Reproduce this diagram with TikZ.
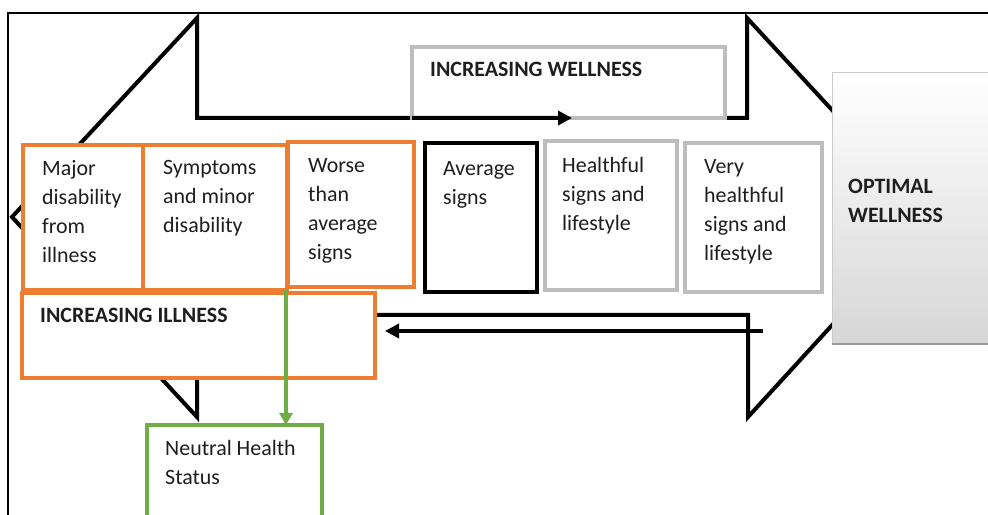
\documentclass[tikz,border=0pt]{standalone}
\usepackage{fontspec}
\setmainfont{Carlito}
\usetikzlibrary{arrows.meta,calc}
\definecolor{orng}{HTML}{ED7D31}
\definecolor{grn}{HTML}{70AD47}
\definecolor{gry}{HTML}{BDBDBD}
\definecolor{txt}{HTML}{1E1E1E}
\definecolor{optbot}{HTML}{D6D6D6}
\begin{document}
\begin{tikzpicture}[x=1bp,y=-1bp,
  boxbase/.style={rectangle,inner sep=0,outer sep=0,anchor=north west,fill=white,line width=4bp},
  orangebox/.style={boxbase,draw=orng},
  graybox/.style={boxbase,draw=gry},
  blackbox/.style={boxbase,draw=black,line width=4.5bp},
  greenbox/.style={boxbase,draw=grn},
  lbl/.style={anchor=base west,inner sep=0,align=left,text=txt,font=\fontsize{21.9bp}{29bp}\selectfont},
  blbl/.style={lbl,font=\fontsize{21.9bp}{29bp}\selectfont\bfseries},
  bigarrow/.style={draw=black,line width=4bp,line join=miter,miter limit=20},
  inarrow/.style={draw=black,line width=4bp,-{Triangle[length=14bp,width=14bp]}},
  greenarrow/.style={draw=grn,line width=3.5bp,-{Triangle[length=12bp,width=13bp]}}
]
\useasboundingbox (0,0) rectangle (988,515);
\clip (0,0) rectangle (988,515);
% frame
\draw[line width=1.5bp] (8,525) -- (8,13) -- (1000,13);
% big double arrow
\draw[bigarrow] (12,217) -- (197,18) -- (197,118) -- (747,118) -- (747,18) -- (931,217)
  -- (748,417) -- (748,315) -- (197,315) -- (197,417) -- cycle;
% optimal wellness box
\node[rectangle,inner sep=0,outer sep=0,anchor=north west,minimum width=170bp,minimum height=271bp,
  top color=white,bottom color=optbot,draw=gry!80,line width=1bp] (opt) at (832,73) {};
\draw[line width=2bp,draw=gray!80] (opt.south west) -- (opt.south east);
% increasing wellness
\node[graybox,minimum width=313bp,minimum height=71bp] (well) at (412,47) {};
% row boxes
\node[orangebox,minimum width=120bp,minimum height=145bp] (b1) at (23,145) {};
\node[orangebox,minimum width=144bp,minimum height=145bp] (b2) at (143,145) {};
\node[orangebox,minimum width=126bp,minimum height=145bp] (b3) at (288,142) {};
\node[blackbox,minimum width=112bp,minimum height=149bp] (b4) at (425,143) {};
\node[graybox,minimum width=132bp,minimum height=149bp] (b5) at (545,141) {};
\node[graybox,minimum width=137bp,minimum height=149bp] (b6) at (685,143) {};
% increasing illness
\node[orangebox,minimum width=353bp,minimum height=85bp] (ill) at (22,293) {};
% neutral
\node[greenbox,minimum width=175bp,minimum height=120bp] (neu) at (147,425) {};
% inner arrows
\coordinate (wtip) at (572,118);
\draw[inarrow] (well.south west) -- (wtip);
\coordinate (istart) at (763,331);
\coordinate (itip) at (385,331);
\draw[inarrow] (istart) -- (itip);
\draw[greenarrow] ($(b2.south east)+(-1,0)$) -- ($(b2.south east |- neu.north)+(-1,0)$);
% labels (anchor = baseline of last line)
\node[lbl] (t1) at (42,263) {Major\\disability\\from\\illness};
\node[lbl] (t2) at (163,233) {Symptoms\\and minor\\disability};
\node[lbl] (t3) at (308,260) {Worse\\than\\average\\signs};
\node[lbl] (t4) at (443,205) {Average\\signs};
\node[lbl] (t5) at (562,231) {Healthful\\signs and\\lifestyle};
\node[lbl] (t6) at (704,261) {Very\\healthful\\signs and\\lifestyle};
\node[blbl] (t7) at (848,223) {OPTIMAL\\WELLNESS};
\node[blbl] (t8) at (430,77) {INCREASING WELLNESS};
\node[blbl] (t9) at (40,323) {INCREASING ILLNESS};
\node[lbl] (t10) at (165,484) {Neutral Health\\Status};
\end{tikzpicture}
\end{document}
